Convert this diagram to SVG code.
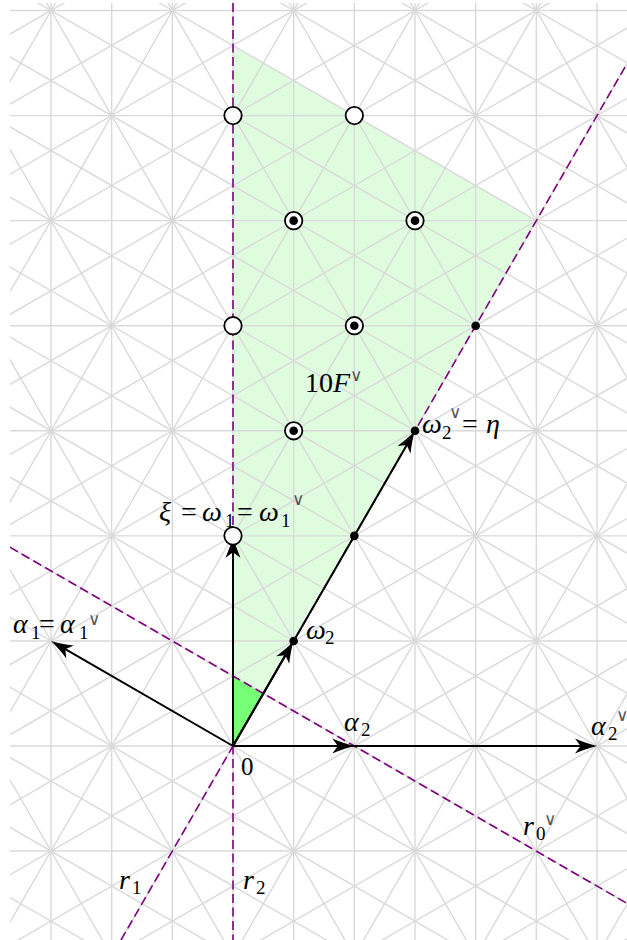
<svg xmlns="http://www.w3.org/2000/svg" xmlns:xlink="http://www.w3.org/1999/xlink" width="627" height="940" viewBox="0 0 627 940">
<style>
.grid{fill:none;stroke:#d9d9d9;stroke-width:1.4}
.wall{fill:none;stroke:#800080;stroke-width:1.6;stroke-dasharray:9 4.5}
.vec{fill:none;stroke:#000;stroke-width:2;marker-end:url(#ah)}
.open{fill:#fff;stroke:#000;stroke-width:1.8}
.dot{fill:#000}
.t{font-family:"Liberation Serif","Times New Roman",serif;font-size:28px;fill:#000}
.i{font-style:italic}
.s{font-size:19px;font-style:normal}
.v{font-family:"DejaVu Sans","Liberation Sans",sans-serif;font-size:17px;font-weight:200;fill:#555;text-anchor:middle}
</style>
<defs>
<clipPath id="clip"><rect x="10" y="3" width="640" height="960"/></clipPath>
<marker id="ah" markerUnits="userSpaceOnUse" viewBox="-24 -9 26 18" markerWidth="26" markerHeight="18" refX="-8" refY="0" orient="auto" overflow="visible">
<path d="M0 0C-7 -1.5 -15 -4.5 -22 -7.5L-16.5 0L-22 7.5C-15 4.5 -7 1.5 0 0Z" fill="#000"/>
</marker>
<path id="gh" d="M-700 -199.63H1200M-700 -94.56H1200M-700 10.51H1200M-700 115.58H1200M-700 220.65H1200M-700 325.72H1200M-700 430.79H1200M-700 535.86H1200M-700 640.93H1200M-700 746H1200M-700 851.07H1200M-700 956.14H1200M-700 1061.21H1200M-700 1166.28H1200M-700 1271.35H1200M-700 1376.42H1200M-700 1481.49H1200M-700 1586.56H1200M-700 1691.63H1200"/>
<path id="gv" d="M-616.33 -200V1700M-555.67 -200V1700M-495 -200V1700M-434.33 -200V1700M-373.67 -200V1700M-313 -200V1700M-252.33 -200V1700M-191.67 -200V1700M-131 -200V1700M-70.33 -200V1700M-9.67 -200V1700M51 -200V1700M111.67 -200V1700M172.33 -200V1700M233 -200V1700M293.67 -200V1700M354.33 -200V1700M415 -200V1700M475.67 -200V1700M536.33 -200V1700M597 -200V1700M657.67 -200V1700M718.33 -200V1700M779 -200V1700M839.67 -200V1700M900.33 -200V1700M961 -200V1700M1021.67 -200V1700M1082.33 -200V1700"/>
</defs>
<rect width="627" height="940" fill="#fff"/>
<g id="regions">
<polygon id="region-10F" points="233,746 233,45.52 536.33,220.65" fill="#dffcdf"/>
<polygon id="region-F" points="233,746 233,675.95 263.33,693.46" fill="#78ff78"/>
</g>
<g id="grid" class="grid" clip-path="url(#clip)">
<use xlink:href="#gh"/>
<use xlink:href="#gh" transform="rotate(60 233 746)"/>
<use xlink:href="#gh" transform="rotate(120 233 746)"/>
<use xlink:href="#gv"/>
<use xlink:href="#gv" transform="rotate(60 233 746)"/>
<use xlink:href="#gv" transform="rotate(120 233 746)"/>
</g>
<g id="connectors">
<g id="walls" class="wall" clip-path="url(#clip)">
<line id="wall-r2" x1="233" y1="3" x2="233" y2="940"/>
<line id="wall-r1" x1="121" y1="940" x2="627" y2="63.6"/>
<line id="wall-r0" x1="10" y1="547.2" x2="627" y2="903.4"/>
</g>
<g id="vectors" class="vec">
<line id="vec-alpha1" x1="233" y1="746" x2="57.93" y2="644.93"/>
<line id="vec-omega1" x1="233" y1="746" x2="233" y2="543.86"/>
<line id="vec-omega2" x1="233" y1="746" x2="289.67" y2="647.86"/>
<line id="vec-eta" x1="233" y1="746" x2="411" y2="437.72"/>
<line id="vec-alpha2" x1="233" y1="746" x2="346.33" y2="746"/>
<line id="vec-alpha2v" x1="233" y1="746" x2="589" y2="746"/>
</g>
</g>
<g id="nodes">
<g id="n-open-1"><circle class="open" cx="233" cy="115.58" r="8.7"/></g>
<g id="n-open-2"><circle class="open" cx="354.33" cy="115.58" r="8.7"/></g>
<g id="n-open-3"><circle class="open" cx="233" cy="325.72" r="8.7"/></g>
<g id="n-xi"><circle class="open" cx="233" cy="535.86" r="8.7"/></g>
<g id="n-cd-1"><circle class="open" cx="293.67" cy="220.65" r="8.7"/><circle class="dot" cx="293.67" cy="220.65" r="4.3"/></g>
<g id="n-cd-2"><circle class="open" cx="415" cy="220.65" r="8.7"/><circle class="dot" cx="415" cy="220.65" r="4.3"/></g>
<g id="n-cd-3"><circle class="open" cx="354.33" cy="325.72" r="8.7"/><circle class="dot" cx="354.33" cy="325.72" r="4.3"/></g>
<g id="n-cd-4"><circle class="open" cx="293.67" cy="430.79" r="8.7"/><circle class="dot" cx="293.67" cy="430.79" r="4.3"/></g>
<g id="n-dot-1"><circle class="dot" cx="475.67" cy="325.72" r="4.3"/></g>
<g id="n-eta"><circle class="dot" cx="415" cy="430.79" r="4.3"/></g>
<g id="n-dot-2"><circle class="dot" cx="354.33" cy="535.86" r="4.3"/></g>
<g id="n-omega2"><circle class="dot" cx="293.67" cy="640.93" r="4.3"/></g>
</g>
<g id="labels">
<g id="lab-xi"><text class="t" y="521"><tspan class="i" x="159">ξ</tspan><tspan x="181">=</tspan><tspan class="i" x="202">ω</tspan><tspan class="s" x="225" dy="6">1</tspan><tspan x="237" dy="-6">=</tspan><tspan class="i" x="259">ω</tspan><tspan class="s" x="281" dy="6">1</tspan></text><text class="v" x="297.5" y="505">∨</text></g>
<g id="lab-10F"><text class="t" y="392"><tspan x="305">10</tspan><tspan class="i">F</tspan></text><text class="v" x="356" y="381">∨</text></g>
<g id="lab-eta"><text class="t" y="433"><tspan class="i" x="422">ω</tspan><tspan class="s" x="442" dy="6">2</tspan><tspan x="462" dy="-6">=</tspan><tspan class="i" x="486">η</tspan></text><text class="v" x="455" y="418">∨</text></g>
<g id="lab-alpha1"><text class="t" y="633"><tspan class="i" x="13">α</tspan><tspan class="s" x="31" dy="6">1</tspan><tspan x="39" dy="-6">=</tspan><tspan class="i" x="60">α</tspan><tspan class="s" x="79" dy="6">1</tspan></text><text class="v" x="94" y="625">∨</text></g>
<g id="lab-omega2"><text class="t" y="639"><tspan class="i" x="306">ω</tspan><tspan class="s" x="325" dy="5">2</tspan></text></g>
<g id="lab-alpha2"><text class="t" y="731"><tspan class="i" x="344">α</tspan><tspan class="s" x="361" dy="5">2</tspan></text></g>
<g id="lab-alpha2v"><text class="t" y="735"><tspan class="i" x="591">α</tspan><tspan class="s" x="608" dy="5">2</tspan></text><text class="v" x="622" y="721">∨</text></g>
<g id="lab-0"><text class="t" x="241" y="775" style="font-size:25px">0</text></g>
<g id="lab-r0"><text class="t" y="835"><tspan class="i" x="523">r</tspan><tspan class="s" x="536" dy="5">0</tspan></text><text class="v" x="549.5" y="825">∨</text></g>
<g id="lab-r1"><text class="t" y="889"><tspan class="i" x="119">r</tspan><tspan class="s" x="132" dy="5">1</tspan></text></g>
<g id="lab-r2"><text class="t" y="889"><tspan class="i" x="243">r</tspan><tspan class="s" x="256" dy="5">2</tspan></text></g>
</g>
</svg>
